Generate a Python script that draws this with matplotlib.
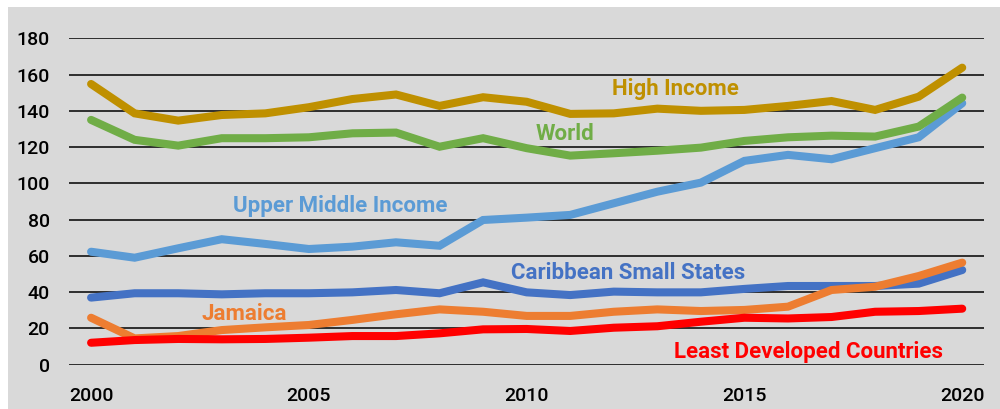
import matplotlib
matplotlib.use("Agg")
import matplotlib.pyplot as plt
from matplotlib.patches import Rectangle

years = list(range(2000, 2021))
high_income = [154.8, 138.6, 134.6, 137.7, 138.6, 142.0, 146.5, 149.0, 142.7, 147.5, 145.0,
               138.3, 138.6, 141.2, 140.0, 140.5, 142.7, 145.4, 140.5, 147.8, 163.8]
world = [135.0, 124.0, 120.8, 124.9, 124.9, 125.4, 127.6, 128.0, 120.2, 124.9, 119.4,
         115.3, 116.6, 118.0, 119.7, 123.4, 125.4, 126.3, 125.8, 131.3, 147.3]
upper_middle = [62.3, 59.0, 64.2, 69.2, 66.6, 63.8, 65.1, 67.5, 65.6, 79.8, 81.1,
                82.6, 89.0, 95.4, 100.4, 112.4, 115.7, 113.3, 119.4, 125.4, 144.2]
caribbean = [37.0, 39.4, 39.4, 38.8, 39.4, 39.4, 39.9, 41.2, 39.4, 45.4, 39.9,
             38.4, 40.3, 39.9, 39.9, 41.8, 43.4, 43.4, 43.4, 44.7, 52.2]
jamaica = [25.9, 14.5, 15.8, 19.1, 20.6, 21.9, 24.7, 27.8, 30.5, 29.2, 26.9,
           26.9, 29.2, 30.5, 29.6, 30.2, 32.0, 41.2, 43.0, 48.9, 56.3]
least_dev = [12.1, 13.6, 14.2, 14.0, 14.2, 14.9, 15.8, 15.8, 17.3, 19.5, 19.7,
             18.6, 20.4, 21.2, 23.7, 25.9, 25.5, 26.3, 29.2, 29.6, 30.9]

series_names = ["Upper Middle Income", "World", "High Income",
                "Caribbean Small States", "Jamaica", "Least Developed Countries"]
y_ticks = [0, 20, 40, 60, 80, 100, 120, 140, 160, 180]
x_ticks = [2000, 2005, 2010, 2015, 2020]

colors = {
    "High Income": "#BF9000",
    "World": "#70AD47",
    "Upper Middle Income": "#5B9BD5",
    "Caribbean Small States": "#4472C4",
    "Jamaica": "#ED7D31",
    "Least Developed Countries": "#FF0000",
}
data = {
    "High Income": high_income,
    "World": world,
    "Upper Middle Income": upper_middle,
    "Caribbean Small States": caribbean,
    "Jamaica": jamaica,
    "Least Developed Countries": least_dev,
}
# label positions (data coords)
label_pos = {
    "High Income": (2013.42, 151.8),
    "World": (2010.87, 127.0),
    "Upper Middle Income": (2005.71, 87.3),
    "Caribbean Small States": (2012.32, 50.5),
    "Jamaica": (2003.51, 28.2),
    "Least Developed Countries": (2016.47, 7.2),
}

fig = plt.figure(figsize=(10, 4.09), dpi=100)
fig.patch.set_facecolor("white")
fig.patches.append(Rectangle((0.0075, 0), 1.0, 0.982, transform=fig.transFigure,
                             facecolor="#D9D9D9", edgecolor="none", zorder=-10))
ax = fig.add_axes([0.0693, 0.1083, 0.9147, 0.7981])
ax.set_facecolor("none")
ax.set_xlim(1999.5, 2020.5)
ax.set_ylim(0, 180)
ax.set_yticks(y_ticks)
ax.set_xticks(x_ticks)
ax.grid(axis="y", color="#000000", linewidth=1.1, zorder=0)
ax.set_axisbelow(True)
for s in ax.spines.values():
    s.set_visible(False)
ax.tick_params(length=0, labelsize=14, colors="black")
ax.tick_params(axis="y", pad=14)
ax.tick_params(axis="x", pad=16)
for lab in ax.get_xticklabels() + ax.get_yticklabels():
    lab.set_fontfamily("Roboto")
    lab.set_fontweight("medium")

for name in series_names:
    ax.plot(years, data[name], color=colors[name], linewidth=5.8,
            solid_capstyle="round", solid_joinstyle="miter", clip_on=False, zorder=3)
    x, y = label_pos[name]
    ax.text(x, y, name, color=colors[name], fontsize=16, fontweight="bold",
            family="Roboto", ha="center", va="center", zorder=5)

fig.savefig("out.png", dpi=100)
